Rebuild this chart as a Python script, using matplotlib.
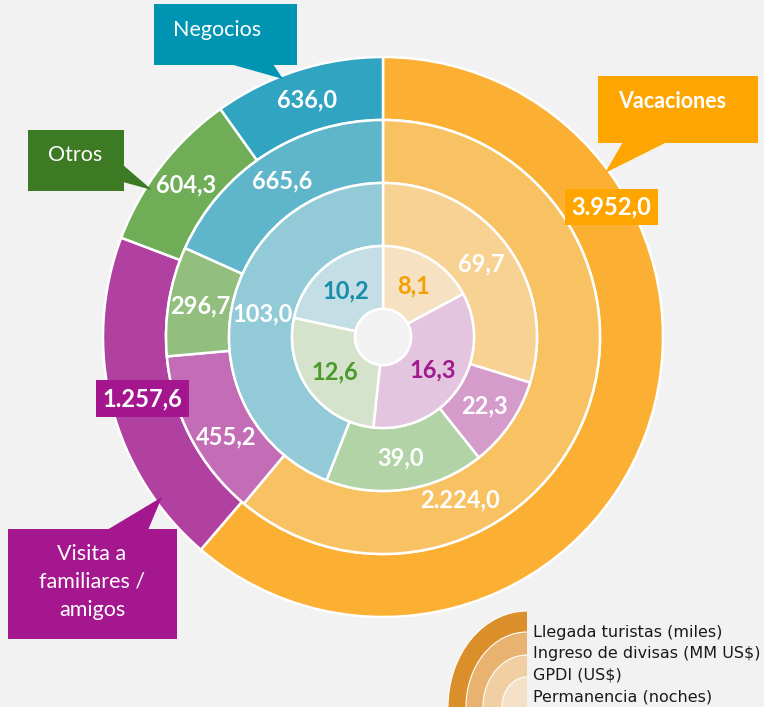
import numpy as np
import matplotlib
matplotlib.use("Agg")
import matplotlib.pyplot as plt
from matplotlib.patches import Polygon, Rectangle, Ellipse

# ---- data (outer ring -> inner ring), order: Vacaciones, Visita, Otros, Negocios
categorias = ["Vacaciones", "Visita a familiares / amigos", "Otros", "Negocios"]
llegada_turistas = [3952.0, 1257.6, 604.3, 636.0]
ingreso_divisas = [2224.0, 455.2, 296.7, 665.6]
gpdi = [69.7, 22.3, 39.0, 103.0]
permanencia = [8.1, 16.3, 12.6, 10.2]
series_legend = ["Llegada turistas (miles)", "Ingreso de divisas (MM US$)",
                 "GPDI (US$)", "Permanencia (noches)"]

W, H = 764, 707
BG = "#f2f2f2"
FONT = "Lato"

ring_colors = [
    ["#fbb034", "#b041a0", "#70ad57", "#30a4c0"],
    ["#f8c262", "#c36db7", "#92be7e", "#5fb6ca"],
    ["#f8d293", "#d49bcb", "#b1d3a5", "#92cad8"],
    ["#f6e2c3", "#e3c5df", "#d5e3cd", "#c3dfe5"],
]
inner_txt = ["#f5a002", "#a1198c", "#4b9a2c", "#168daa"]


def fmt(v):
    s = "{:,.1f}".format(v)
    return s.replace(",", "X").replace(".", ",").replace("X", ".")


def Y(y):
    return H - y


fig = plt.figure(figsize=(W / 100, H / 100), dpi=100, facecolor=BG)
ax = fig.add_axes([0, 0, 1, 1])
ax.set_facecolor(BG)

cx, cy = 383, Y(337)
radii = [280, 217, 154, 91]
width = 63
rings = [llegada_turistas, ingreso_divisas, gpdi, permanencia]

# label angle overrides (ring, slice) -> (angle deg, radius)
overrides = {(0, 0): (29.6, 263), (1, 0): (-64.7, 180), (1, 1): (212.5, 186)}
boxed = {(0, 0): "#ffa500", (0, 1): "#a3168e"}

for ri, (vals, r) in enumerate(zip(rings, radii)):
    wedges, _ = ax.pie(vals, radius=r, center=(cx, cy), startangle=90,
                       counterclock=False, colors=ring_colors[ri],
                       wedgeprops=dict(width=width, edgecolor="white", linewidth=1.8))
    for si, w in enumerate(wedges):
        ang = (w.theta1 + w.theta2) / 2
        rr = r - width / 2
        if (ri, si) in overrides:
            ang, rr = overrides[(ri, si)]
        tx = cx + rr * np.cos(np.radians(ang))
        ty = cy + rr * np.sin(np.radians(ang))
        col = inner_txt[si] if ri == 3 else "white"
        kw = {}
        if (ri, si) in boxed:
            kw["bbox"] = dict(boxstyle="square,pad=0.28", fc=boxed[(ri, si)], ec="none")
        ax.text(tx, ty, fmt(vals[si]), ha="center", va="center", color=col,
                fontsize=17, fontweight="bold", family=FONT, **kw)

# centre hole
ax.add_patch(plt.Circle((cx, cy), 28, fc=BG, ec="white", lw=1.8))


def callout(x0, y0, x1, y1, pointer, color, text, tx, ty, bold=False):
    ax.add_patch(Rectangle((x0, Y(y1)), x1 - x0, y1 - y0, fc=color, ec="none", zorder=5))
    ax.add_patch(Polygon([(px, Y(py)) for px, py in pointer], closed=True,
                         fc=color, ec="none", zorder=5))
    ax.text(tx, Y(ty), text, ha="center", va="center", color="white", fontsize=15.5,
            fontweight="bold" if bold else "normal", family=FONT, zorder=6,
            linespacing=1.5)


callout(154, 4, 297, 65, [(230, 64), (283, 79), (273, 64)], "#0094b3", "Negocios", 217, 30)
callout(598, 76, 758, 143, [(623, 142), (605, 173), (667, 142)], "#ffa500", "Vacaciones", 672, 101, bold=True)
callout(28, 130, 124, 191, [(123, 165), (152, 190), (123, 182)], "#3c7a24", "Otros", 75, 155)
callout(8, 529, 177, 639, [(107, 530), (162, 497), (148, 530)], "#a4178e",
        "Visita a\nfamiliares /\namigos", 92, 582)

# legend: quarter ellipses in orange shades
leg_cols = ["#db8f2a", "#e8b370", "#f0cfa2", "#f5e1c7"]
leg_ax = [(79, 96), (61, 75), (44, 52), (25, 30)]
clip = Rectangle((440, 0), 527 - 440, 120, transform=ax.transData, fc="none", ec="none")
ax.add_patch(clip)
for (a, b), c in zip(leg_ax, leg_cols):
    e = Ellipse((527, Y(707)), 2 * a, 2 * b, fc=c, ec="white", lw=0.8)
    ax.add_patch(e)
    e.set_clip_path(clip)
for i, lab in enumerate(series_legend):
    ax.text(533, Y(632 + i * 21.7), lab, ha="left", va="center", fontsize=11.5,
            family="DejaVu Sans", color="#1a1a1a")

ax.set_xlim(0, W)
ax.set_ylim(0, H)
ax.axis("off")
fig.savefig("out.png", dpi=100, facecolor=BG)
